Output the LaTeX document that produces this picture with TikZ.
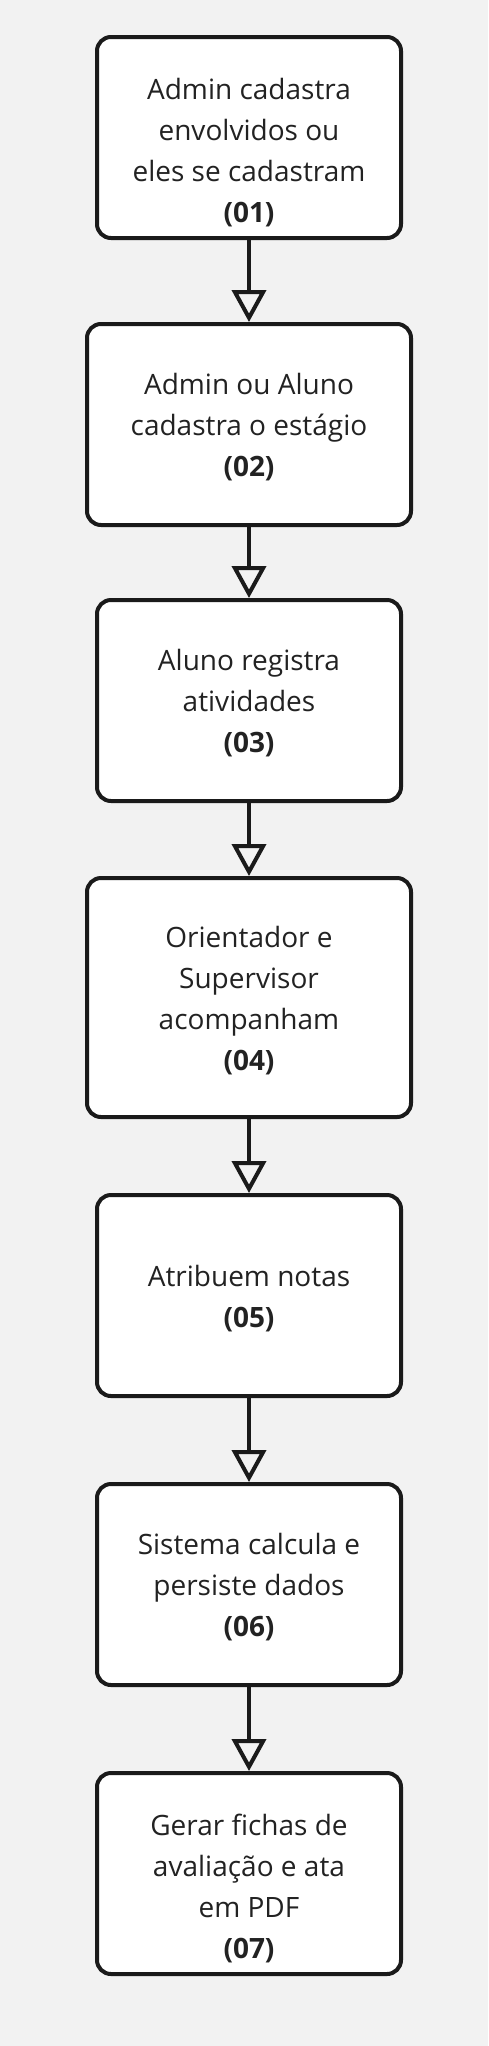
\documentclass[tikz,border=0pt]{standalone}
\usepackage{fontspec}
\setmainfont{Open Sans}
\usetikzlibrary{positioning,arrows.meta}
\definecolor{fundo}{HTML}{F2F2F2}
\definecolor{tinta}{HTML}{1A1A1A}
\definecolor{texto}{HTML}{222222}
\newcommand{\topo}[1][27pt]{\rule{0pt}{#1}}

\begin{document}
\begin{tikzpicture}[
  x=1pt, y=1pt,
  etapa/.style={draw=tinta, line width=4pt, rounded corners=14pt, fill=white,
    align=center, text=texto, font=\fontsize{28}{41}\selectfont,
    minimum width=304pt, minimum height=201pt, inner sep=0pt},
  larga/.style={minimum width=324pt},
  fluxo/.style={draw=tinta, line width=4pt,
    -{Triangle[open, length=32pt, width=34pt]}}
]
  \fill[fundo] (0,0) rectangle (488,-2046);
  \useasboundingbox (0,0) rectangle (488,-2046);

  \node[etapa] (1) at (249,-137.5) {\topo[51pt]Admin cadastra\\envolvidos ou\\eles se cadastram\\\textbf{(01)}};
  \node[etapa, larga, below=82pt of 1] (2) {\topo Admin ou Aluno\\cadastra o estágio\\\textbf{(02)}};
  \node[etapa, below=71pt of 2] (3) {\topo Aluno registra\\atividades\\\textbf{(03)}};
  \node[etapa, larga, minimum height=239pt, below=73pt of 3] (4) {\topo Orientador e\\Supervisor\\acompanham\\\textbf{(04)}};
  \node[etapa, below=74pt of 4] (5) {\topo Atribuem notas\\\textbf{(05)}};
  \node[etapa, below=84pt of 5] (6) {\topo Sistema calcula e\\persiste dados\\\textbf{(06)}};
  \node[etapa, below=84pt of 6] (7) {\topo[51pt]Gerar fichas de\\avaliação e ata\\em PDF\\\textbf{(07)}};

  \path[fluxo]
  (1) edge (2)
  (2) edge (3)
  (3) edge (4)
  (4) edge (5)
  (5) edge (6)
  (6) edge (7);
\end{tikzpicture}
\end{document}
